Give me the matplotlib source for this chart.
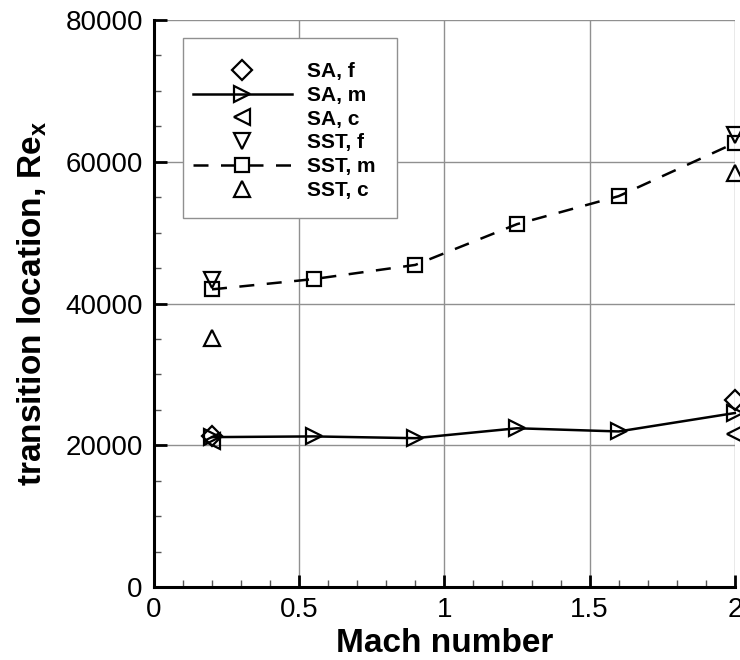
import matplotlib
matplotlib.use("Agg")
import matplotlib.pyplot as plt
from matplotlib.patches import Rectangle
from matplotlib.ticker import MultipleLocator

# Mach numbers
mach_end = [0.2, 2.0]
mach_m = [0.2, 0.55, 0.9, 1.25, 1.6, 2.0]

# transition Re_x
sa_f = [21300, 26400]
sa_m = [21150, 21250, 21000, 22400, 21950, 24550]
sa_c = [20600, 21550]
sst_f = [43300, 63750]
sst_m = [42000, 43450, 45450, 51200, 55150, 62650]
sst_c = [35100, 58400]

fig = plt.figure(figsize=(7.4, 6.6), dpi=100)
ax = fig.add_axes([0.208, 0.1106, 0.785, 0.859])

mk = dict(markersize=11, markerfacecolor='none', markeredgecolor='black',
          markeredgewidth=1.6, color='black', clip_on=False)

ax.plot(mach_end, sa_f, 'D', label='SA, f', **{**mk, 'markersize': 10})
ax.plot(mach_m, sa_m, '->', lw=1.8, label='SA, m', **mk)
ax.plot(mach_end, sa_c, '<', label='SA, c', **mk)
ax.plot(mach_end, sst_f, 'v', label='SST, f', **mk)
ax.plot(mach_m, sst_m, 's', ls=(0, (6, 5)), lw=1.8, label='SST, m',
        **{**mk, 'markersize': 10})
ax.plot(mach_end, sst_c, '^', label='SST, c', **mk)

ax.set_xlim(0, 2)
ax.set_ylim(0, 80000)
ax.xaxis.set_major_locator(MultipleLocator(0.5))
ax.xaxis.set_minor_locator(MultipleLocator(0.1))
ax.yaxis.set_major_locator(MultipleLocator(20000))
ax.yaxis.set_minor_locator(MultipleLocator(5000))
ax.set_xticks([0, 0.5, 1, 1.5, 2], ['0', '0.5', '1', '1.5', '2'])

ax.grid(True, which='major', color='#909090', lw=1.0)
ax.set_axisbelow(True)
for s in ['top', 'right']:
    ax.spines[s].set_visible(False)
for s in ['left', 'bottom']:
    ax.spines[s].set_linewidth(2.2)

ax.tick_params(which='major', direction='in', length=9, width=2, labelsize=20)
ax.tick_params(axis='y', which='major', pad=8)
ax.tick_params(axis='x', which='major', pad=7)
ax.tick_params(which='minor', direction='in', length=5, width=1, color='#555555')
for lab in ax.get_xticklabels() + ax.get_yticklabels():
    lab.set_family(['Liberation Sans', 'DejaVu Sans'])

lab_font = dict(family=['Liberation Sans', 'DejaVu Sans'], weight='bold', size=24)
ax.set_xlabel('Mach number', labelpad=4, **lab_font)
ax.set_ylabel('transition location, Re$_\\mathregular{x}$', labelpad=12, **lab_font)

# legend frame drawn separately so the padding matches
ax.add_patch(Rectangle((0.05, 0.651), 0.368, 0.317, transform=ax.transAxes,
                       facecolor='white', edgecolor='#909090', lw=1.0,
                       zorder=4, clip_on=False))
leg = ax.legend(loc='upper left', bbox_to_anchor=(0.067, 0.926), frameon=False,
                handlelength=4.75, handletextpad=0.72, labelspacing=0.23,
                borderpad=0, borderaxespad=0,
                prop=dict(family=['Liberation Sans', 'DejaVu Sans'],
                          weight='bold', size=15))
leg.set_zorder(5)

fig.savefig('out.png', dpi=100)
